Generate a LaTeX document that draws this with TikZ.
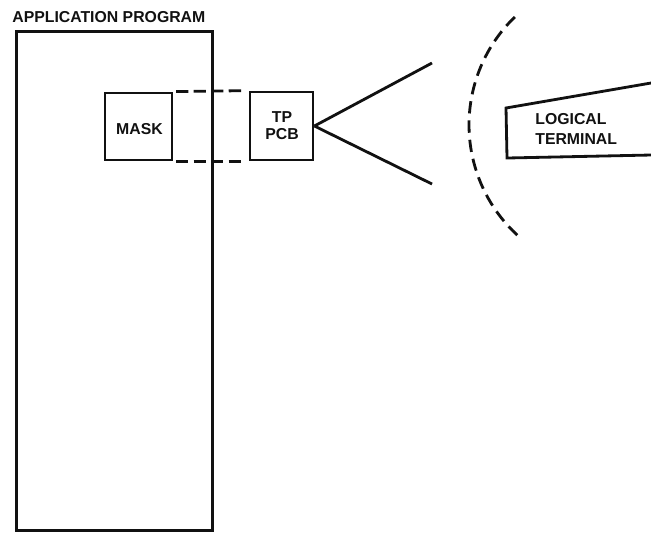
\documentclass[tikz,border=0pt]{standalone}
\usepackage{fontspec}
\setmainfont{Liberation Sans}
\usepackage{xcolor}
\definecolor{plateink}{HTML}{111111}

\begin{document}
\begin{tikzpicture}[
  x=0.02cm,
  y=-0.02cm,
  every node/.style={font=\fontsize{9}{11.4}\selectfont\bfseries, text=plateink},
  progbox/.style={draw=plateink, line width=1.6pt, inner sep=0pt},
  dashlink/.style={draw=plateink, line width=1.6pt, dash pattern=on 7pt off 3pt, shorten <=1.5pt, shorten >=3.5pt},
  solidlink/.style={draw=plateink, line width=1.6pt}
]
  \useasboundingbox (0,0) rectangle (651,532);

  \node[progbox, anchor=north west, minimum width=3.92cm, minimum height=9.98cm] (app) at (15,30) {};
  \node[anchor=south west, inner sep=0pt] (apptitle) at (12,22.5) {APPLICATION PROGRAM};

  \node[progbox, minimum width=1.34cm, minimum height=1.34cm] (mask) at (138.5,126.5) {};
  \node[inner sep=0pt] (masktext) at (139.5,129) {MASK};
  \node[progbox, minimum width=1.26cm, minimum height=1.36cm] (tppcb) at (281.5,126) {};
  \node[inner sep=0pt, align=center, font=\fontsize{9}{9.8}\selectfont\bfseries] (tppcbtext) at (282,126) {TP\\PCB};

  \draw[dashlink] (mask.north east) -- (tppcb.north west);
  \draw[dashlink] (mask.south east) -- (tppcb.south west);

  \coordinate (fanup) at (432,63);
  \coordinate (fandown) at (432,184);
  \draw[solidlink] (tppcb.east) -- (fanup);
  \draw[solidlink] (tppcb.east) -- (fandown);

  \draw[plateink, line width=1.6pt, dash pattern=on 7pt off 4pt] (514.8,17) arc[start angle=134, end angle=229, radius=3cm];

  \coordinate (termtopright) at (651,83);
  \coordinate (termtopleft) at (506,108);
  \coordinate (termbotleft) at (507,158);
  \coordinate (termbotright) at (651,155);
  \draw[solidlink, line join=miter] (termtopright) -- (termtopleft) -- (termbotleft) -- (termbotright);
  \node[anchor=north west, inner sep=0pt, align=left] (termtext) at (535,113.5) {LOGICAL\\TERMINAL};
\end{tikzpicture}
\end{document}
